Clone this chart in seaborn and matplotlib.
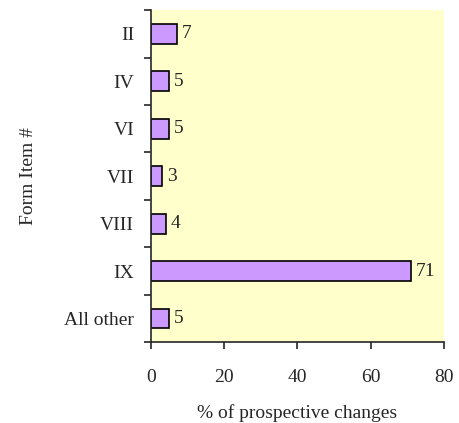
import numpy as np
import pandas as pd
import matplotlib
matplotlib.use("Agg")
import matplotlib.pyplot as plt
import seaborn as sns

# data
items = ["II", "IV", "VI", "VII", "VIII", "IX", "All other"]
pct = [7, 5, 5, 3, 4, 71, 5]

df = pd.DataFrame({"item": items, "pct": pct})

sns.set_style("ticks")
plt.rcParams['font.family'] = ['Liberation Serif', 'DejaVu Serif']

fig = plt.figure(figsize=(4.6, 4.23), dpi=100)
ax = fig.add_axes([0.328, 0.191, 0.637, 0.785])
ax.set_facecolor("#FFFFCC")

sns.barplot(data=df, x="pct", y="item", orient="h", color="#CC99FF",
            edgecolor="black", linewidth=1.2, width=0.42, saturation=1, ax=ax)

# value labels next to bars
for i, v in enumerate(pct):
    ax.text(v + 1.3, i, str(v), va="center", ha="left", fontsize=14)

ax.set_xlim(0, 80)
ax.set_ylim(len(items) - 0.5, -0.5)
ax.set_xticks([0, 20, 40, 60, 80])
ax.tick_params(axis="x", labelsize=14, length=5, width=1.2, pad=14, direction="out")

# category labels centred, tick marks at boundaries
ax.tick_params(axis="y", which="major", length=0, labelsize=14, pad=12)
ax.set_yticks(np.arange(-0.5, len(items), 1.0), minor=True)
ax.tick_params(axis="y", which="minor", length=5, width=1.2, direction="out")

for s in ["top", "right"]:
    ax.spines[s].set_visible(False)
for s in ["left", "bottom"]:
    ax.spines[s].set_linewidth(1.2)

ax.set_xlabel("% of prospective changes", fontsize=14, labelpad=13)
ax.set_ylabel("Form Item #", fontsize=14, labelpad=20)

fig.savefig("out.png", dpi=100)
